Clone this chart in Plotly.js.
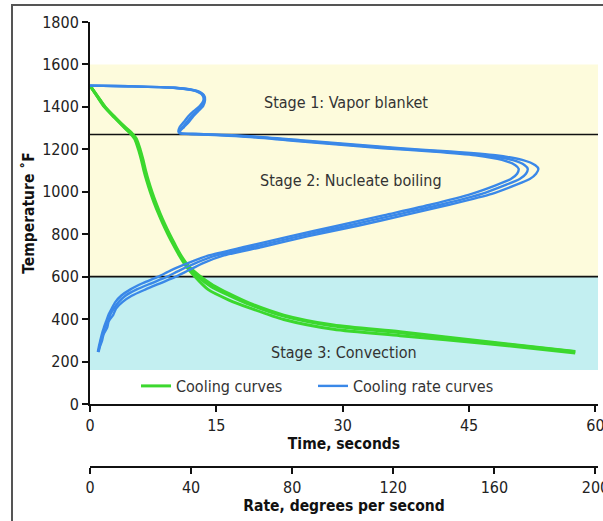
<!DOCTYPE html>
<html>
<head>
<meta charset="utf-8">
<script src="https://cdn.plot.ly/plotly-3.0.1.min.js"></script>
<style>
  html, body { margin: 0; padding: 0; background: #fff; }
  #chart { width: 603px; height: 521px; }
</style>
</head>
<body>
<div id="chart"></div>
<script>
// ---- Cooling curves: temperature (°F) vs time (s) ----
const tempG = [1500, 1450, 1400, 1350, 1300, 1275, 1250, 1200, 1150, 1100, 1050, 1000, 950, 900, 850, 800, 750, 700, 650, 607];
const timeG1 = [0, 0.9, 1.8, 3.0, 4.3, 5.0, 5.5, 5.95, 6.3, 6.6, 6.95, 7.35, 7.8, 8.3, 8.85, 9.45, 10.1, 10.8, 11.7, 12.9];
const timeG2 = [0, 0.85, 1.7, 2.9, 4.15, 4.8, 5.3, 5.75, 6.1, 6.4, 6.75, 7.15, 7.6, 8.1, 8.65, 9.25, 9.9, 10.6, 11.4, 12.3];
const timeG3 = [0, 0.88, 1.75, 2.95, 4.2, 4.9, 5.4, 5.85, 6.2, 6.5, 6.85, 7.25, 7.7, 8.2, 8.75, 9.35, 10.0, 10.7, 11.55, 12.6];
// stage 3 tails (time, temperature)
const tailTimeG1 = [14.6, 16.5, 19.0, 23.0, 28.9, 36.8, 47.5, 57.6];
const tailTempG1 = [560, 520, 474, 419, 372, 340, 292, 248];
const tailTimeG2 = [14.0, 16.5, 19.0, 23.0, 28.9, 36.8, 47.5, 57.6];
const tailTempG2 = [540, 490, 452, 398, 352, 322, 283, 240];
const tailTimeG3 = [14.4, 16.5, 19.0, 23.0, 28.9, 36.8, 47.5, 57.6];
const tailTempG3 = [553, 512, 468, 414, 367, 336, 289, 246];

// ---- Cooling rate curves: temperature (°F) vs rate (°/s) ----
const tempRate = [1500, 1497, 1490, 1475, 1455, 1432, 1405, 1380, 1355, 1330, 1305, 1285, 1276, 1272, 1262, 1243, 1224, 1205, 1190, 1172, 1150, 1125, 1108, 1085, 1060, 1030, 990, 940, 890, 840, 790, 740, 700, 665, 630, 600, 570, 540, 510, 480, 450, 420, 390, 360, 330, 300, 270, 245];
const rateA = [0, 15.8, 33.7, 42.4, 45.1, 45.5, 44.8, 42.8, 40.8, 39.2, 37.2, 35.6, 36, 43.6, 63.4, 83.2, 103, 122.8, 142.6, 160.4, 171, 176.2, 177.4, 176.5, 174, 168, 159, 142.5, 124.5, 106, 86, 68, 53, 45, 39, 34, 28, 22, 16.5, 12.8, 10.3, 9.2, 7.4, 6.8, 5.4, 4.8, 3.9, 3.4];
const rateB = [0, 15.5, 33.2, 42, 44.8, 45.2, 44.3, 42.2, 40, 38.4, 36.6, 35.2, 35.6, 42, 61, 80.5, 100, 119.5, 139, 156.5, 167, 172, 173.2, 172.5, 170, 164, 155, 139, 120.5, 102, 82.5, 64.5, 50, 42, 35.5, 30.5, 24.5, 18.5, 14, 11.3, 9.4, 8.0, 7.2, 5.9, 5.3, 4.3, 3.8, 3.2];
const rateC = [0, 15.2, 32.8, 41.6, 44.5, 44.9, 43.5, 41, 38.8, 37.2, 35.5, 35, 35.4, 40.5, 59, 78, 97, 116, 135.5, 152.5, 163, 168.3, 169.6, 169, 166.5, 160.5, 151, 135, 116.5, 98, 79, 61, 47, 39, 32, 27, 21, 16, 12.3, 10, 8.6, 7.3, 6.4, 5.5, 4.7, 4.1, 3.5, 3.1];

// ---- Stages ----
const stageNames = ["Stage 1: Vapor blanket", "Stage 2: Nucleate boiling", "Stage 3: Convection"];
const stageLabelT = [1422, 1054, 245];
const stageLabelTime = [30.4, 31.0, 30.2];
const stage1Bottom = 1270;
const stage2Bottom = 600;
const bandTop = 1600;
const bandBottom = 160;

const timeTicks = [0, 15, 30, 45, 60];
const rateTicks = [0, 40, 80, 120, 160, 200];
const tempTicks = [0, 200, 400, 600, 800, 1000, 1200, 1400, 1600, 1800];

const GREEN = "#3cd82e";
const BLUE = "#3a88e8";
const FONT = "'DejaVu Sans Condensed', 'Liberation Sans Narrow', sans-serif";

function greenTrace(x, y, show) {
  return { x: x, y: y, type: "scatter", mode: "lines", xaxis: "x", yaxis: "y",
    name: "Cooling curves", showlegend: show, legend: "legend",
    line: { color: GREEN, width: 3, shape: "spline", smoothing: 0.7 }, hoverinfo: "skip" };
}
function blueTrace(x, y, show) {
  return { x: x, y: y, type: "scatter", mode: "lines", xaxis: "x2", yaxis: "y",
    name: "Cooling rate curves", showlegend: show, legend: "legend2",
    line: { color: BLUE, width: 2.4, shape: "spline", smoothing: 0.6 }, hoverinfo: "skip" };
}

const data = [
  blueTrace(rateC, tempRate, false),
  blueTrace(rateB, tempRate, false),
  blueTrace(rateA, tempRate, true),
  greenTrace(timeG2.concat(tailTimeG2), tempG.concat(tailTempG2), false),
  greenTrace(timeG3.concat(tailTimeG3), tempG.concat(tailTempG3), false),
  greenTrace(timeG1.concat(tailTimeG1), tempG.concat(tailTempG1), true)
];

const W = 603, H = 521;
const mL = 90, mR = 5, mT = 22, mB = 54;
const plotH = H - mT - mB;           // 445
const xAxisPx = 404;
const yDomLow = (H - mB - xAxisPx) / plotH;
const pxX = (px) => (px - mL) / (W - mL - mR);
const pxY = (py) => (H - mB - py) / plotH;

const shapes = [
  { type: "rect", xref: "x", yref: "y", x0: 0, x1: 60.3, y0: stage2Bottom, y1: bandTop,
    fillcolor: "#fdfbdc", line: { width: 0 }, layer: "below" },
  { type: "rect", xref: "x", yref: "y", x0: 0, x1: 60.3, y0: bandBottom, y1: stage2Bottom,
    fillcolor: "#c3eff1", line: { width: 0 }, layer: "below" },
  { type: "line", xref: "x", yref: "y", x0: 0, x1: 60.3, y0: stage1Bottom, y1: stage1Bottom,
    line: { color: "#111", width: 1.6 }, layer: "below" },
  { type: "line", xref: "x", yref: "y", x0: 0, x1: 60.3, y0: stage2Bottom, y1: stage2Bottom,
    line: { color: "#111", width: 1.6 }, layer: "below" },
  { type: "rect", xref: "paper", yref: "paper", x0: pxX(12), x1: pxX(615), y0: pxY(540), y1: pxY(5),
    line: { color: "#555", width: 2 }, fillcolor: "rgba(0,0,0,0)", layer: "above" }
];

const annotations = stageNames.map((s, i) => ({
  x: stageLabelTime[i], y: stageLabelT[i], xref: "x", yref: "y", text: s, showarrow: false,
  font: { family: FONT, size: 16, color: "#333" }, xanchor: "center", yanchor: "middle"
}));

const axisCommon = {
  showline: true, linecolor: "#111", linewidth: 2, ticks: "outside", ticklen: 6, tickwidth: 2,
  tickcolor: "#111", showgrid: false, zeroline: false, ticklabeloverflow: "allow",
  tickfont: { family: FONT, size: 16, color: "#222" }, fixedrange: true
};

const legendCommon = { orientation: "h", xanchor: "left", y: pxY(386), yanchor: "middle",
  bgcolor: "rgba(0,0,0,0)", font: { family: FONT, size: 16, color: "#333" } };

const layout = {
  width: W, height: H,
  margin: { l: mL, r: mR, t: mT, b: mB, pad: 0 },
  paper_bgcolor: "#fff", plot_bgcolor: "#fff",
  showlegend: true,
  legend: Object.assign({}, legendCommon, { x: pxX(136) }),
  legend2: Object.assign({}, legendCommon, { x: pxX(313) }),
  xaxis: Object.assign({}, axisCommon, {
    range: [0, 60.3], tickvals: timeTicks, anchor: "y",
    title: { text: "<b>Time, seconds</b>", font: { family: FONT, size: 15.5, color: "#111" }, standoff: 0 }
  }),
  xaxis2: Object.assign({}, axisCommon, {
    range: [0, 201], tickvals: rateTicks, overlaying: "x", anchor: "free", position: 0, side: "bottom",
    title: { text: "<b>Rate, degrees per second</b>", font: { family: FONT, size: 15.5, color: "#111" }, standoff: 2 }
  }),
  yaxis: Object.assign({}, axisCommon, {
    range: [0, 1800], tickvals: tempTicks, domain: [yDomLow, 1],
    title: { text: "<b>Temperature ˚F</b>", font: { family: FONT, size: 15.5, color: "#111" }, standoff: 4 }
  }),
  shapes: shapes,
  annotations: annotations
};

Plotly.newPlot("chart", data, layout, { staticPlot: true, displayModeBar: false });
</script>
</body>
</html>
